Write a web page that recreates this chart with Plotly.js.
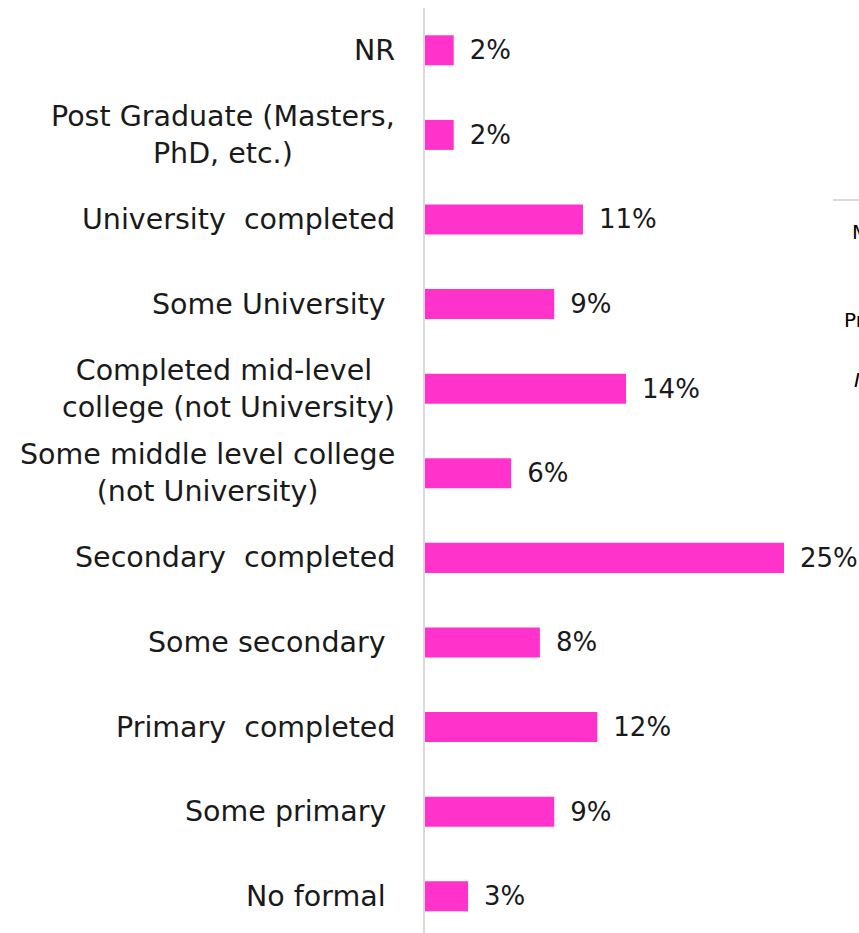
<!DOCTYPE html>
<html>
<head>
<meta charset="utf-8">
<script src="https://cdn.plot.ly/plotly-3.0.1.min.js"></script>
<style>html,body{margin:0;padding:0;background:#fff;}#chart{width:859px;height:933px;}</style>
</head>
<body>
<div id="chart"></div>
<script>
// Categories listed bottom to top
const categories = [
  "No formal",
  "Some primary",
  "Primary completed",
  "Some secondary",
  "Secondary completed",
  "Some middle level college (not University)",
  "Completed mid-level college (not University)",
  "Some University",
  "University completed",
  "Post Graduate (Masters, PhD, etc.)",
  "NR"
];
const labelTexts = [
  "No formal\u00a0",
  "Some primary\u00a0",
  "Primary\u00a0 completed",
  "Some secondary\u00a0",
  "Secondary\u00a0 completed",
  "Some middle level college<br>(not University)",
  "Completed mid-level\u00a0<br>college (not University)",
  "Some University\u00a0",
  "University\u00a0 completed",
  "Post Graduate (Masters,<br>PhD, etc.)",
  "NR"
];
const values = [3, 9, 12, 8, 25, 6, 14, 9, 11, 2, 2];
const valueLabels = ["3%", "9%", "12%", "8%", "25%", "6%", "14%", "9%", "11%", "2%", "2%"];

const FONT = "DejaVu Sans, sans-serif";
const W = 859, H = 933, L = 425, T = 8, B = 0, R = 0;

const trace = {
  type: "bar",
  orientation: "h",
  y: categories,
  x: values,
  marker: {color: "#ff33cc", line: {width: 0}},
  text: valueLabels.map(s => "\u2002" + s),
  textposition: "outside",
  constraintext: "none",
  cliponaxis: false,
  textfont: {family: FONT, size: 26, color: "#1a1a1a"},
  hoverinfo: "skip"
};

const annotations = categories.map((c, i) => ({
  xref: "paper", yref: "y",
  x: 0, y: c,
  xanchor: "right", yanchor: "middle",
  xshift: -28,
  align: "center",
  text: labelTexts[i],
  showarrow: false,
  font: {family: FONT, size: 28.5, color: "#1a1a1a"}
}));

// fragments of a neighbouring object cut off at the right edge
const px = x => (x - L) / (W - L - R);
const py = y => (H - B - y) / (H - T - B);
annotations.push(
  {xref: "paper", yref: "paper", x: px(850), y: py(232), xanchor: "left", yanchor: "middle", text: "M", showarrow: false, font: {family: FONT, size: 20, color: "#000"}},
  {xref: "paper", yref: "paper", x: px(842), y: py(320), xanchor: "left", yanchor: "middle", text: "Pr", showarrow: false, font: {family: FONT, size: 20, color: "#000"}},
  {xref: "paper", yref: "paper", x: px(852), y: py(380), xanchor: "left", yanchor: "middle", text: "<i>I</i>", showarrow: false, font: {family: FONT, size: 20, color: "#000"}}
);

const layout = {
  width: W, height: H,
  margin: {l: L, r: R, t: T, b: B, pad: 0},
  paper_bgcolor: "#ffffff",
  plot_bgcolor: "#ffffff",
  showlegend: false,
  bargap: 0.645,
  xaxis: {range: [0, (W - L - R) / 14.36], visible: false, fixedrange: true},
  yaxis: {
    type: "category",
    categoryorder: "array",
    categoryarray: categories,
    range: [-0.434, 10.5],
    showticklabels: false,
    showgrid: false,
    zeroline: false,
    showline: true,
    linecolor: "#d9d9d9",
    linewidth: 2,
    ticks: "",
    fixedrange: true
  },
  annotations: annotations,
  shapes: [
    {type: "line", xref: "paper", yref: "paper", x0: px(833), x1: px(860), y0: py(200), y1: py(200), line: {color: "#d9d9d9", width: 2}}
  ]
};

Plotly.newPlot("chart", [trace], layout, {displayModeBar: false, staticPlot: true});
</script>
</body>
</html>
